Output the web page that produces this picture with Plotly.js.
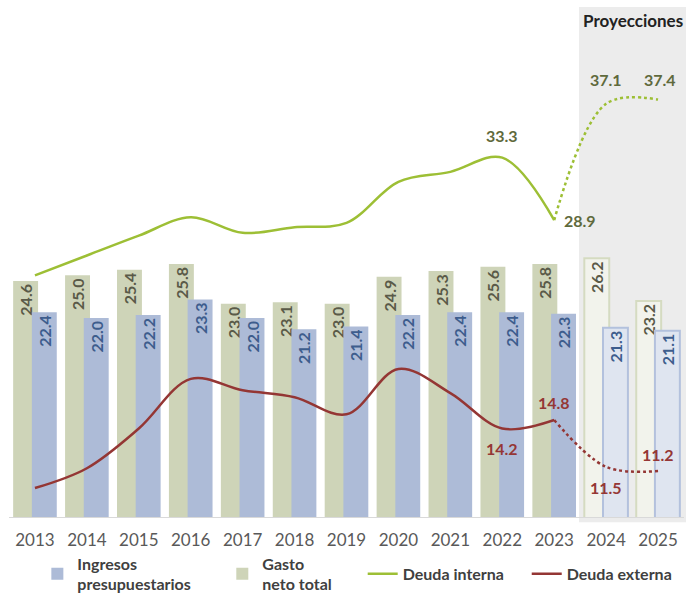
<!DOCTYPE html>
<html><head><meta charset="utf-8">
<script src="https://cdn.plot.ly/plotly-3.0.1.min.js"></script>
<style>html,body{margin:0;padding:0;background:#fff}</style>
</head><body><div id="chart" style="width:686px;height:600px"></div>
<script>
// ---- data ----
const years = ['2013','2014','2015','2016','2017','2018','2019','2020','2021','2022','2023','2024','2025'];
const ingresos = [22.4,22.0,22.2,23.3,22.0,21.2,21.4,22.2,22.4,22.4,22.3,21.3,21.1];
const gasto = [24.6,25.0,25.4,25.8,23.0,23.1,23.0,24.9,25.3,25.6,25.8,26.2,23.2];
const deudaInterna = [25.0,26.4,27.8,29.1,28.0,28.4,28.7,31.6,32.3,33.3,28.9,37.1,37.4];
const deudaExterna = [10.0,11.4,14.2,17.7,16.9,16.4,15.2,18.4,16.7,14.2,14.8,11.5,11.2];
const projectionYears = ['2024','2025'];
const lastActualYear = '2023';
const labeledYears = ['2022','2023','2024','2025'];

// ---- styles ----
const FONT = 'Lato, "Open Sans", sans-serif';
const C = {
  ing: '#adbbd7', ingProj: '#dfe5f0', ingLine: '#b3c1dd', ingText: '#3d5d8d',
  gas: '#ced4b8', gasProj: '#f2f3ec', gasLine: '#d5dbc1', gasText: '#5a5a48',
  int: '#9dbf35', intText: '#5f6a3c', ext: '#943634', extText: '#953735'
};
const isProj = years.map(y => projectionYears.includes(y));
const cut = years.indexOf(lastActualYear);

const gastoTrace = {
  type: 'bar', name: 'Gasto<br>neto total', x: years, y: gasto,
  width: 0.48, offset: -0.42, legend: 'legend2',
  marker: {
    color: isProj.map(p => p ? C.gasProj : C.gas),
    line: {color: isProj.map(p => p ? C.gasLine : C.gas), width: isProj.map(p => p ? 2 : 0)}
  },
  text: gasto.map(v => v.toFixed(1)), textposition: 'inside', insidetextanchor: 'end',
  textangle: -90, constraintext: 'none',
  textfont: {family: FONT, size: 16, weight: 'bold', color: C.gasText},
  hoverinfo: 'skip'
};
const ingresosTrace = {
  type: 'bar', name: 'Ingresos<br>presupuestarios', x: years, y: ingresos,
  width: 0.48, offset: -0.06, legend: 'legend',
  marker: {
    color: isProj.map(p => p ? C.ingProj : C.ing),
    line: {color: isProj.map(p => p ? C.ingLine : C.ing), width: isProj.map(p => p ? 2 : 0)}
  },
  text: ingresos.map(v => v.toFixed(1)), textposition: 'inside', insidetextanchor: 'end',
  textangle: -90, constraintext: 'none',
  textfont: {family: FONT, size: 16, weight: 'bold', color: C.ingText},
  hoverinfo: 'skip'
};
function lineTraces(name, vals, color, legendId) {
  return [
    {type: 'scatter', mode: 'lines', name: name, legend: legendId,
     x: years.slice(0, cut + 1), y: vals.slice(0, cut + 1),
     line: {color: color, width: 2.5, shape: 'spline', smoothing: 1}, hoverinfo: 'skip'},
    {type: 'scatter', mode: 'lines', name: name + ' (proy.)', showlegend: false,
     x: years.slice(cut), y: vals.slice(cut),
     line: {color: color, width: 2.5, shape: 'spline', smoothing: 1, dash: 'dot'}, hoverinfo: 'skip'}
  ];
}
const data = [gastoTrace, ingresosTrace,
  ...lineTraces('Deuda interna', deudaInterna, C.int, 'legend3'),
  ...lineTraces('Deuda externa', deudaExterna, C.ext, 'legend4')];

// label placement (styling only)
const intLabelStyle = {
  '2022': {yshift: 22}, '2023': {xanchor: 'left', xshift: 8},
  '2024': {yshift: 24}, '2025': {yshift: 20, xshift: 2}
};
const extLabelStyle = {
  '2022': {yshift: -20}, '2023': {yshift: 18}, '2024': {yshift: -21}, '2025': {yshift: 17}
};
const annotations = [];
labeledYears.forEach(y => {
  const i = years.indexOf(y);
  annotations.push(Object.assign({xref: 'x', yref: 'y', x: i, y: deudaInterna[i],
    text: '<b>' + deudaInterna[i].toFixed(1) + '</b>', showarrow: false,
    xanchor: 'center', yanchor: 'middle',
    font: {family: FONT, size: 16, color: C.intText}}, intLabelStyle[y]));
  annotations.push(Object.assign({xref: 'x', yref: 'y', x: i, y: deudaExterna[i],
    text: '<b>' + deudaExterna[i].toFixed(1) + '</b>', showarrow: false,
    xanchor: 'center', yanchor: 'middle',
    font: {family: FONT, size: 16, color: C.extText}}, extLabelStyle[y]));
});
annotations.push({xref: 'paper', yref: 'paper', x: 0.924, y: 0.961, xanchor: 'center', yanchor: 'middle',
  text: '<b>Proyecciones</b>', showarrow: false, font: {family: FONT, size: 17, color: '#222'}});

const legendBase = {orientation: 'h', yanchor: 'middle', y: -0.11, xanchor: 'left',
  font: {family: FONT, size: 16, weight: 'bold', color: '#404040'}, bgcolor: 'rgba(0,0,0,0)'};

const layout = {
  width: 686, height: 600,
  margin: {l: 9, r: 2, t: 0, b: 83, autoexpand: false},
  paper_bgcolor: '#fff', plot_bgcolor: '#fff',
  barmode: 'overlay',
  xaxis: {type: 'category', range: [-0.5, 12.5], showgrid: false, zeroline: false,
    showline: true, linecolor: '#d9d9d9', linewidth: 1, ticks: '', ticklabelstandoff: 8,
    tickfont: {family: FONT, size: 17, color: '#595959'}, fixedrange: true},
  yaxis: {range: [7.96, 44.42], showticklabels: false, ticks: '', showline: false,
    showgrid: false, zeroline: false, fixedrange: true},
  shapes: [{type: 'rect', xref: 'paper', yref: 'paper', x0: 0.8444, x1: 1.02, y0: -0.01, y1: 0.9865,
    fillcolor: '#ececec', line: {width: 0}, layer: 'below'}],
  annotations: annotations,
  legend: Object.assign({}, legendBase, {x: 0.042}),
  legend2: Object.assign({}, legendBase, {x: 0.316}),
  legend3: Object.assign({}, legendBase, {x: 0.524}),
  legend4: Object.assign({}, legendBase, {x: 0.767}),
  showlegend: true
};
Plotly.newPlot('chart', data, layout, {displayModeBar: false, staticPlot: true});
</script></body></html>
